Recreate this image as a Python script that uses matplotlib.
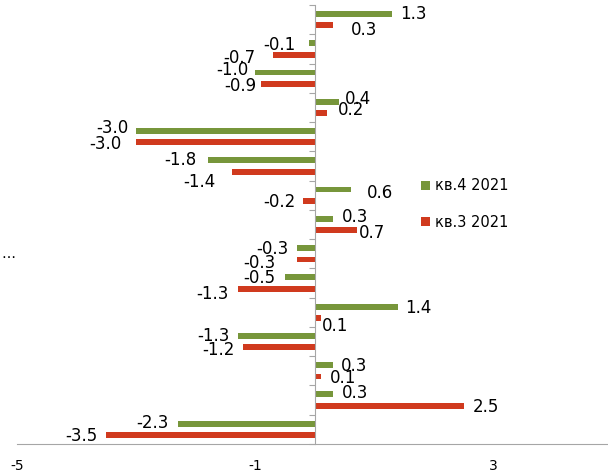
import numpy as np
import matplotlib
matplotlib.use("Agg")
import matplotlib.pyplot as plt

# categories top to bottom (labels are cut off in the source, only "…" is visible)
categories = ["", "", "", "", "", "", "", "", "…", "", "", "", "", "", ""]
q4_2021 = [1.3, -0.1, -1.0, 0.4, -3.0, -1.8, 0.6, 0.3, -0.3, -0.5, 1.4, -1.3, 0.3, 0.3, -2.3]
q3_2021 = [0.3, -0.7, -0.9, 0.2, -3.0, -1.4, -0.2, 0.7, -0.3, -1.3, 0.1, -1.2, 0.1, 2.5, -3.5]
series_names = ["кв.4 2021", "кв.3 2021"]
xticks = [-5, -1, 3]

# label nudges in pixels (dx from bar end, dy downwards), hand placed like in the source
q4_offsets = [(8, 0), (-14, 2), (-7, -2), (6, -3), (-8, -3), (-11, 0), (16, 3), (9, -2),
              (-9, 1), (-10, 1), (7, 1), (-8, 0), (8, 1), (9, -1), (-9, -1)]
q3_offsets = [(18, 5), (-18, 3), (-5, 2), (11, -3), (-15, 2), (-16, 10), (-8, 1), (2, 3),
              (-22, 4), (-9, 5), (1, 8), (-9, 3), (9, 1), (9, 1), (-9, 1)]

green = "#77963b"
red = "#d03a1e"

W, H = 608, 473
fig = plt.figure(figsize=(W / 100, H / 100), dpi=100)
ax = fig.add_axes([17 / W, 29 / H, 596 / W, 439 / H])

y = np.arange(len(categories))
bh = 0.2
ax.barh(y - 0.195, q4_2021, height=bh, color=green, label=series_names[0])
ax.barh(y + 0.195, q3_2021, height=bh, color=red, label=series_names[1])

ax.set_xlim(-5, 5)
ax.set_ylim(len(categories) - 0.5, -0.5)

for vals, offs, dy0 in [(q4_2021, q4_offsets, -0.195), (q3_2021, q3_offsets, 0.195)]:
    for i, (v, (dx, dy)) in enumerate(zip(vals, offs)):
        ax.annotate(f"{v:.1f}", (v, i + dy0), xytext=(dx, -dy), textcoords="offset pixels",
                    ha="left" if v >= 0 else "right", va="center", fontsize=12, color="black")

# category axis through zero, tick marks between categories
ax.spines["left"].set_position(("data", 0))
for s in ["top", "right"]:
    ax.spines[s].set_visible(False)
ax.spines["left"].set_color("#a6a6a6")
ax.spines["bottom"].set_color("#a6a6a6")
ax.set_yticks(np.arange(-0.5, len(categories), 1.0))
ax.set_yticklabels([])
ax.tick_params(axis="y", length=4, color="#a6a6a6")

for i, c in enumerate(categories):
    ax.annotate(c, (-5, i), xytext=(-2, 0), textcoords="offset pixels",
                ha="right", va="center", fontsize=10, annotation_clip=False)

ax.set_xticks(xticks)
ax.set_xticklabels([str(t) for t in xticks])
ax.tick_params(axis="x", length=0, pad=11, labelsize=10)

ax.legend(loc="center left", bbox_to_anchor=(408 / W, 1 - 204 / H), bbox_transform=fig.transFigure,
          frameon=False, fontsize=10.5, handlelength=0.6, handleheight=0.6,
          handletextpad=0.35, labelspacing=1.45)

fig.savefig("out.png", dpi=100)
